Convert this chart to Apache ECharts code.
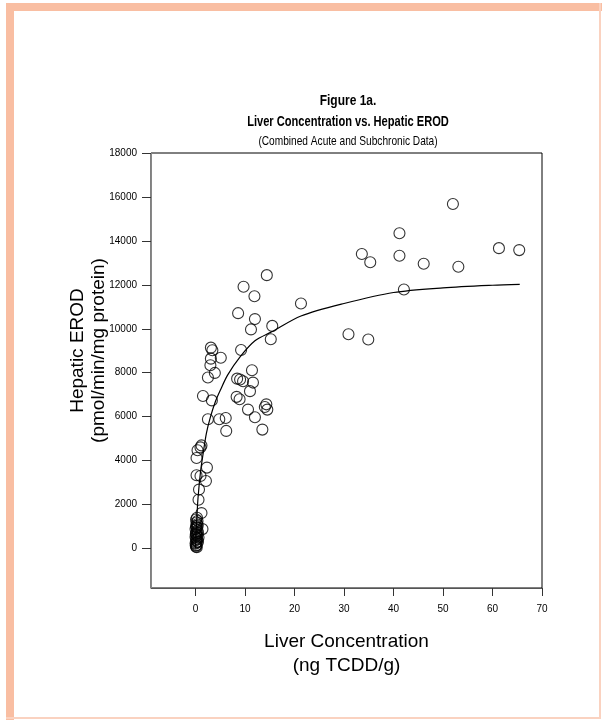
<!DOCTYPE html>
<html>
<head>
<meta charset="utf-8">
<script src="https://cdn.jsdelivr.net/npm/echarts@6/dist/echarts.min.js"></script>
<style>
html,body{margin:0;padding:0;background:#fff;}
#chart{width:602px;height:720px;}
</style>
</head>
<body>
<div id="chart"></div>
<script>
// ---- data ----
const xTicks = [0, 10, 20, 30, 40, 50, 60, 70];
const yTicks = [0, 2000, 4000, 6000, 8000, 10000, 12000, 14000, 16000, 18000];

// liver concentration (ng TCDD/g)
const liverConc = [
  52.0, 41.2, 33.6, 35.3, 41.2, 46.1, 53.1, 61.3, 65.4, 42.1, 21.3, 30.9, 34.9,
  14.4, 9.7, 11.9, 8.6, 12.0, 15.5, 11.2, 15.2, 9.2,
  3.1, 3.4, 5.1, 3.1, 3.0, 3.9, 2.5,
  11.4, 8.4, 9.0, 9.6, 11.6, 11.0, 8.3, 8.9,
  1.5, 3.3, 14.3, 14.5, 14.0, 10.6, 12.0, 13.5,
  2.5, 4.8, 6.1, 6.2,
  1.2, 1.0, 0.4, 0.2, 2.3, 0.2, 1.0, 2.1, 0.7, 0.6, 1.2,
  0.1, 0.2, 0.0, 0.3, 0.1, 0.2, 0.0, 0.3, 0.1, 0.2, 0.4, 0.0, 0.2, 0.1, 0.3,
  0.2, 0.4, 0.1, 0.3, 0.5, 0.6, 1.4, 0.05, 0.25, 0.15, 0.35, 0.45, 0.05, 0.25, 0.5
];
// hepatic EROD (pmol/min/mg protein)
const erod = [
  15680, 14350, 13400, 13030, 13320, 12960, 12820, 13670, 13580, 11790, 11150, 9750, 9510,
  12440, 11910, 11480, 10710, 10440, 10130, 9970, 9520, 9030,
  9140, 9020, 8680, 8640, 8340, 7990, 7780,
  8110, 7730, 7690, 7610, 7550, 7160, 6900, 6790,
  6940, 6740, 6560, 6320, 6440, 6320, 5970, 5410,
  5880, 5880, 5940, 5350,
  4690, 4600, 4470, 4120, 3680, 3330, 3300, 3070, 2680, 2220, 1610,
  80, 150, 220, 300, 380, 450, 520, 600, 680, 750, 820, 880, 950, 1020, 1100,
  1180, 1250, 1320, 1400, 700, 500, 880, 120, 60, 260, 420, 1050, 640, 960, 300
];

// fitted curve
const fitX = [0, 0.1, 0.25, 0.5, 1.0, 1.5, 2.2, 3.0, 4.0, 5.0, 6.5, 9.0, 12, 15.4, 21.3, 30, 40, 50, 60, 65.5];
const fitY = [0, 700, 1350, 2300, 3480, 4270, 5250, 5980, 6680, 7200, 7900, 8720, 9450, 9860, 10580, 11150, 11650, 11860, 11980, 12020];

const FONT = '"Liberation Sans", Arial, sans-serif';
const SALMON = '#F9BEA2';

const chart = echarts.init(document.getElementById('chart'), null, {renderer: 'canvas'});

const points = liverConc.map((x, i) => [x, erod[i]]);
const fitLine = fitX.map((x, i) => [x, fitY[i]]);
const plain = v => String(v);

chart.setOption({
  animation: false,
  backgroundColor: '#fff',
  grid: {left: 151, top: 153, width: 391, height: 435, show: true, borderColor: '#000', borderWidth: 1, backgroundColor: 'transparent'},
  xAxis: {
    type: 'value', min: -9, max: 70,
    axisLine: {show: true, onZero: false, lineStyle: {color: '#555', width: 1}},
    axisTick: {show: true, customValues: xTicks, length: 8, lineStyle: {color: '#333'}},
    axisLabel: {customValues: xTicks, margin: 16, color: '#000', fontSize: 10, fontFamily: FONT, formatter: plain},
    splitLine: {show: false},
    name: '{a|Liver Concentration}\n{a|(ng TCDD/g)}',
    nameLocation: 'middle', nameGap: 42, nameMoveOverlap: false,
    nameTextStyle: {rich: {a: {fontSize: 19, lineHeight: 24, fontFamily: FONT, color: '#000'}}}
  },
  yAxis: {
    type: 'value', min: -1800, max: 18000,
    axisLine: {show: true, onZero: false, lineStyle: {color: '#888', width: 1}},
    axisTick: {show: true, customValues: yTicks, length: 9, lineStyle: {color: '#333'}},
    axisLabel: {customValues: yTicks, margin: 14, color: '#000', fontSize: 10, fontFamily: FONT, formatter: plain},
    splitLine: {show: false},
    name: '{a|Hepatic EROD}\n{a|(pmol/min/mg protein)}',
    nameLocation: 'middle', nameGap: 42, nameRotate: 90, nameMoveOverlap: false,
    nameTextStyle: {padding: [0, 0, 0, 40], rich: {a: {fontSize: 19, lineHeight: 21, fontFamily: FONT, color: '#000'}}}
  },
  graphic: [
    {type: 'rect', shape: {x: 6, y: 3, width: 596, height: 8}, style: {fill: SALMON}, silent: true},
    {type: 'rect', shape: {x: 6, y: 3, width: 8, height: 717}, style: {fill: SALMON}, silent: true},
    {type: 'rect', shape: {x: 599, y: 3, width: 2, height: 716}, style: {fill: '#FAD2C0'}, silent: true},
    {type: 'rect', shape: {x: 6, y: 717, width: 595, height: 2}, style: {fill: '#FAD2C0'}, silent: true},
    {type: 'text', x: 348, y: 101, scaleX: 0.8, style: {text: 'Figure 1a.', font: 'bold 15px ' + FONT, fill: '#000', align: 'center', verticalAlign: 'middle'}},
    {type: 'text', x: 348, y: 122, scaleX: 0.74, style: {text: 'Liver Concentration vs. Hepatic EROD', font: 'bold 15px ' + FONT, fill: '#000', align: 'center', verticalAlign: 'middle'}},
    {type: 'text', x: 348, y: 141, scaleX: 0.78, style: {text: '(Combined Acute and Subchronic Data)', font: '13px ' + FONT, fill: '#000', align: 'center', verticalAlign: 'middle'}}
  ],
  series: [
    {
      type: 'line', data: fitLine, smooth: 0.3, showSymbol: false, symbol: 'none',
      lineStyle: {color: '#000', width: 1.2}, z: 2
    },
    {
      type: 'scatter', data: points, symbol: 'circle', symbolSize: 11,
      itemStyle: {color: 'rgba(0,0,0,0)', borderColor: '#000', borderWidth: 1.1}, z: 3
    }
  ]
});
</script>
</body>
</html>
